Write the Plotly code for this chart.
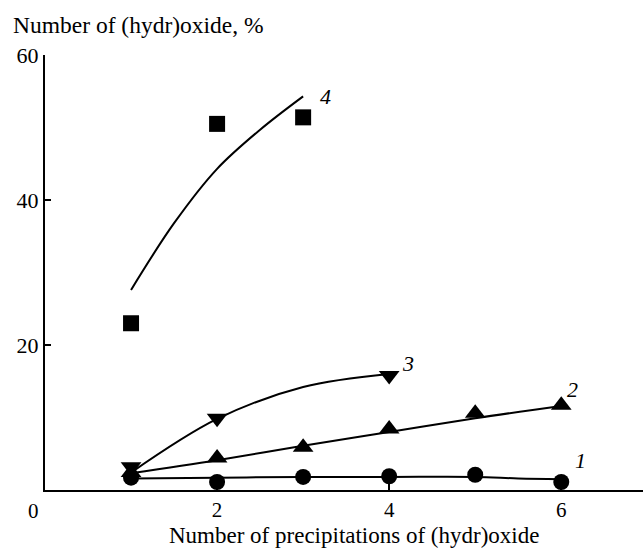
import plotly.graph_objects as go

# measured data
x1 = [1, 2, 3, 4, 5, 6]
y1 = [1.7, 1.1, 1.8, 1.9, 2.1, 1.1]
x2 = [1, 2, 3, 4, 5, 6]
y2 = [2.4, 4.4, 5.9, 8.4, 10.6, 11.7]
x3 = [1, 2, 4]
y3 = [3.2, 9.9, 15.8]
x4 = [1, 2, 3]
y4 = [23.0, 50.5, 51.4]

# fitted curves
fx1 = [1, 2, 3, 4, 5, 5.5, 6]
fy1 = [1.6, 1.7, 1.8, 1.8, 1.8, 1.6, 1.5]
fx2 = [1, 2, 3, 4, 5, 6]
fy2 = [2.3, 4.1, 6.1, 8.0, 9.9, 11.6]
fx3 = [1, 2, 3, 4]
fy3 = [2.4, 9.8, 14.2, 16.0]
fx4 = [1, 1.5, 2, 2.5, 3]
fy4 = [27.6, 36.8, 44.3, 49.7, 54.3]

curve_labels = ["1", "2", "3", "4"]
label_x = [6.22, 6.13, 4.22, 3.26]
label_y = [4.1, 13.9, 17.5, 54.3]

xticks = [2, 4, 6]
yticks = [20, 40, 60]

FONT = "Liberation Serif"
FS = 22

fig = go.Figure()
for fx, fy in [(fx1, fy1), (fx2, fy2), (fx3, fy3), (fx4, fy4)]:
    fig.add_trace(go.Scatter(x=fx, y=fy, mode="lines",
                             line=dict(color="black", width=2, shape="spline"),
                             showlegend=False, hoverinfo="skip"))
markers = [(x1, y1, "circle", 16), (x2, y2, "triangle-up", 18),
           (x3, y3, "triangle-down", 18), (x4, y4, "square", 16)]
for xs, ys, sym, sz in markers:
    fig.add_trace(go.Scatter(x=xs, y=ys, mode="markers",
                             marker=dict(symbol=sym, size=sz, color="black",
                                         line=dict(width=0)),
                             showlegend=False, cliponaxis=False))

annotations = []
for t, lx, ly in zip(curve_labels, label_x, label_y):
    annotations.append(dict(x=lx, y=ly, xref="x", yref="y", text="<i>" + t + "</i>",
                            showarrow=False,
                            font=dict(family=FONT, size=FS, color="black"),
                            xanchor="center", yanchor="middle"))
annotations.append(dict(x=0, y=1, xref="paper", yref="paper",
                        text="Number of (hydr)oxide, %", showarrow=False,
                        xanchor="left", yanchor="middle",
                        xshift=-34, yshift=30,
                        font=dict(family=FONT, size=23.5, color="black")))
annotations.append(dict(x=3.59, y=0, xref="x", yref="paper",
                        text="Number of precipitations of (hydr)oxide",
                        showarrow=False, xanchor="center", yanchor="middle",
                        yshift=-45, borderpad=0,
                        font=dict(family=FONT, size=23, color="black")))
annotations.append(dict(x=0, y=0, xref="x", yref="paper", text="0",
                        showarrow=False, xanchor="center", yanchor="middle",
                        xshift=-12, yshift=-21,
                        font=dict(family=FONT, size=21, color="black")))

fig.update_layout(
    width=643, height=548,
    margin=dict(l=45, r=0, t=55, b=58),
    plot_bgcolor="white", paper_bgcolor="white",
    annotations=annotations,
    font=dict(family=FONT, size=FS, color="black"),
)
fig.update_xaxes(range=[0, 6.95], tickvals=xticks, ticks="inside", ticklen=6,
                 tickwidth=2, tickcolor="black", showline=True, linecolor="black",
                 linewidth=2, showgrid=False, zeroline=False,
                 tickfont=dict(family=FONT, size=21, color="black"))
fig.update_yaxes(range=[0, 60], tickvals=yticks, ticks="inside", ticklen=6,
                 tickwidth=2, tickcolor="black", showline=True, linecolor="black",
                 linewidth=2, showgrid=False, zeroline=False,
                 tickfont=dict(family=FONT, size=FS, color="black"))

fig.write_html("out.html")
